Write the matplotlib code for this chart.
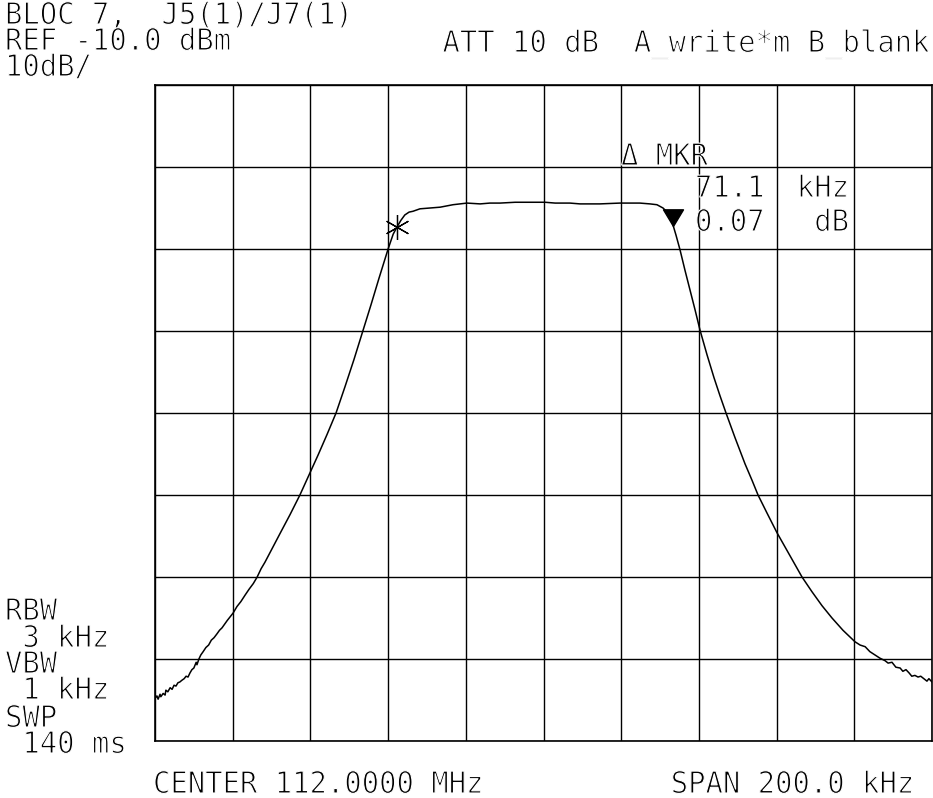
import numpy as np
import matplotlib
matplotlib.use("Agg")
import matplotlib.pyplot as plt
from matplotlib import patheffects
from matplotlib.path import Path
from matplotlib.transforms import Affine2D

# Analyzer settings
center_mhz = 112.0
span_khz = 200.0
ref_level_dbm = -10.0
db_per_div = 10.0
n_xdiv, n_ydiv = 10, 8

# Trace: frequency offset from centre (kHz) and level (dBm)
freq_khz = [
    -100.0, -99.5, -99.2, -98.7, -98.5, -97.9, -97.4, -97.2, -96.7, -96.1,
    -95.6, -95.1, -94.6, -94.1, -93.6, -93.1, -92.5, -92.0, -91.5, -91.0,
    -90.5, -90.0, -89.4, -89.2, -88.7, -88.2, -87.6, -86.9, -86.2, -85.5,
    -84.8, -84.0, -83.4, -82.75, -81.4, -79.9, -78.9, -77.9, -76.8, -75.8,
    -74.7, -73.7, -72.7, -71.7, -69.6, -67.6, -65.25, -62.7, -60.4, -58.0,
    -55.7, -53.4, -51.1, -48.8, -46.5, -44.4, -42.3, -40.0, -38.7, -37.7,
    -36.7, -35.7, -34.6, -33.6, -31.8, -29.2, -26.6, -23.3, -19.7, -16.3,
    -13.8, -11.2, -7.3, -3.5, 0.4, 3.0, 6.8, 9.4, 14.5, 19.7,
    24.8, 27.4, 29.2, 30.76, 32.05, 33.33, 34.1, 35.14, 36.42, 37.71,
    39.0, 40.29, 42.09, 43.89, 45.43, 46.98, 49.29, 51.87, 53.67, 55.22,
    57.53, 60.1, 63.45, 66.54, 69.11, 71.69, 74.26, 77.09, 80.18, 81.5,
    82.8, 84.0, 85.3, 86.6, 87.9, 88.7, 89.7, 90.7, 91.8, 92.5,
    93.3, 94.1, 94.8, 95.6, 96.4, 97.1, 97.9, 98.7, 99.2, 100.0,
]
level_dbm = [
    -84.8, -84.5, -84.9, -84.3, -84.6, -84.2, -84.4, -83.8, -84.0, -83.5,
    -83.7, -83.2, -83.3, -82.9, -82.8, -82.6, -82.4, -82.1, -82.2, -81.7,
    -81.3, -81.1, -80.4, -80.7, -80.0, -79.5, -79.1, -78.6, -78.3, -77.7,
    -77.4, -76.9, -76.5, -76.2, -75.3, -74.4, -73.6, -73.0, -72.2, -71.5,
    -70.8, -70.0, -69.0, -68.2, -66.3, -64.5, -62.4, -60.0, -57.6, -55.1,
    -52.6, -50.0, -46.8, -43.5, -40.0, -36.8, -33.5, -30.0, -28.2, -27.3,
    -26.5, -25.85, -25.5, -25.4, -25.1, -25.0, -24.9, -24.6, -24.4, -24.5,
    -24.4, -24.4, -24.3, -24.3, -24.3, -24.4, -24.4, -24.5, -24.5, -24.4,
    -24.4, -24.5, -24.6, -25.0, -25.6, -27.07, -28.3, -30.1, -32.6, -35.0,
    -37.4, -39.9, -42.9, -45.7, -47.9, -50.0, -53.0, -56.2, -58.2, -60.0,
    -62.2, -64.6, -67.4, -70.0, -71.8, -73.5, -75.0, -76.5, -77.9, -78.3,
    -78.5, -79.1, -79.5, -79.9, -80.2, -80.5, -80.4, -81.0, -81.1, -81.5,
    -81.3, -81.7, -82.1, -82.0, -82.2, -82.1, -82.4, -82.7, -82.4, -82.8,
]

# Markers
ref_marker_khz = -37.7
delta_mkr_khz = 71.1
delta_mkr_db = 0.07

W, H = 933, 798
fig = plt.figure(figsize=(W / 100, H / 100), dpi=100)
fig.patch.set_facecolor("white")

# plot area in pixels: left 155, right 932, top 85, bottom 741
ax = fig.add_axes([155 / W, 1 - 741 / H, (932 - 155) / W, (741 - 85) / H])
half = span_khz / 2
bottom = ref_level_dbm - n_ydiv * db_per_div
ax.set_xlim(-half, half)
ax.set_ylim(bottom, ref_level_dbm)
ax.set_xticks(np.linspace(-half, half, n_xdiv + 1))
ax.set_yticks(np.linspace(bottom, ref_level_dbm, n_ydiv + 1))
ax.tick_params(length=0, labelbottom=False, labelleft=False)
ax.grid(True, color="black", linewidth=1.0)
for s in ax.spines.values():
    s.set_linewidth(1.2)
    s.set_color("black")

ax.plot(freq_khz, level_dbm, color="black", linewidth=1.1, zorder=3)

# reference marker (asterisk) and delta marker (filled triangle, tip on trace)
ref_level = float(np.interp(ref_marker_khz, freq_khz, level_dbm))
ax.plot([ref_marker_khz], [ref_level], marker=(6, 2, 0), markersize=18,
        color="black", markeredgewidth=0.9, zorder=4)
tri = Path([(0, 0), (-0.6, 1), (0.6, 1), (0, 0)],
           [Path.MOVETO, Path.LINETO, Path.LINETO, Path.CLOSEPOLY])
ax.plot([ref_marker_khz + delta_mkr_khz], [ref_level + delta_mkr_db],
        marker=tri, markersize=24, color="black", zorder=4)


class PlotterText(patheffects.AbstractPathEffect):
    """Tall, thin-stroked glyphs in the style of a pen-plotter font."""

    def __init__(self, sy=1.04, trim=0.8):
        super().__init__()
        self.sy = sy
        self.trim = trim

    def draw_path(self, renderer, gc, tpath, affine, rgbFace=None):
        aff = Affine2D().scale(1.0, self.sy) + affine
        g0 = renderer.new_gc()
        g0.copy_properties(gc)
        g0.set_linewidth(0)
        renderer.draw_path(g0, tpath, aff, rgbFace)
        g1 = renderer.new_gc()
        g1.copy_properties(gc)
        g1.set_linewidth(self.trim)
        g1.set_foreground("white")
        renderer.draw_path(g1, tpath, aff, None)
        g0.restore()
        g1.restore()


font = dict(family="DejaVu Sans Mono", size=20.8, color="black",
            path_effects=[PlotterText()])


def put(x, y, s, ha="left"):
    fig.text(x / W, 1 - y / H, s, ha=ha, va="baseline", **font)


put(5, 24, "BLOC 7,  J5(1)/J7(1)")
put(5, 50, "REF -10.0 dBm")
put(929, 52, "ATT 10 dB  A_write*m B_blank", ha="right")
put(5, 76, "10dB/")

put(621, 165, "\u0394 MKR")
put(695, 197, f"{delta_mkr_khz:.1f}")
put(849, 197, "kHz", ha="right")
put(695, 231, f"{delta_mkr_db:.2f}")
put(849, 231, "dB", ha="right")

put(5, 620, "RBW")
put(5, 647, " 3 kHz")
put(5, 673, "VBW")
put(5, 699, " 1 kHz")
put(5, 727, "SWP")
put(5, 753, " 140 ms")

put(153, 793, f"CENTER {center_mhz:.4f} MHz")
put(914, 793, f"SPAN {span_khz:.1f} kHz", ha="right")

fig.savefig("out.png", dpi=100, facecolor="white")
